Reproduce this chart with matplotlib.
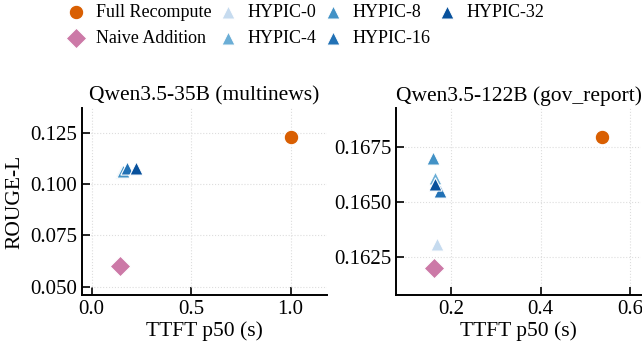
import matplotlib
matplotlib.use("Agg")
import matplotlib.pyplot as plt

plt.rcParams['font.family'] = ['Liberation Serif', 'DejaVu Serif']

methods = ["Full Recompute", "Naive Addition", "HYPIC-0", "HYPIC-4",
           "HYPIC-8", "HYPIC-16", "HYPIC-32"]
colors = ["#d95f02", "#cc79a7", "#c6dbef", "#6baed6", "#4292c6", "#2171b5", "#08519c"]
markers = ["o", "D", "^", "^", "^", "^", "^"]
sizes = [110, 110, 90, 90, 90, 90, 90]

# Qwen3.5-35B (multinews)
ttft_35b = [1.00, 0.143, 0.146, 0.152, 0.160, 0.180, 0.225]
rouge_35b = [0.123, 0.060, 0.1060, 0.1062, 0.1065, 0.1080, 0.1078]

# Qwen3.5-122B (gov_report)
ttft_122b = [0.537, 0.161, 0.169, 0.165, 0.160, 0.176, 0.164]
rouge_122b = [0.16800, 0.16200, 0.16306, 0.16612, 0.16702, 0.16550, 0.16584]

fig = plt.figure(figsize=(6.42, 3.47), dpi=100)
ax1 = fig.add_axes([0.128, 0.150, 0.381, 0.539])
ax2 = fig.add_axes([0.617, 0.150, 0.382, 0.539])

panels = [
    (ax1, ttft_35b, rouge_35b, "Qwen3.5-35B (multinews)"),
    (ax2, ttft_122b, rouge_122b, "Qwen3.5-122B (gov_report)"),
]

for ax, xs, ys, title in panels:
    for i in range(len(methods)):
        ax.scatter(xs[i], ys[i], s=sizes[i], marker=markers[i], color=colors[i],
                   edgecolor="white", linewidth=0.8, label=methods[i], zorder=3)
    ax.set_title(title, fontsize=15.5, pad=5)
    ax.set_xlabel("TTFT p50 (s)", fontsize=15.5, labelpad=2)
    ax.grid(True, linestyle=":", color="#dddddd", linewidth=0.8)
    ax.spines["top"].set_visible(False)
    ax.spines["right"].set_visible(False)
    ax.spines["left"].set_linewidth(1.4)
    ax.spines["bottom"].set_linewidth(1.4)
    ax.tick_params(direction="in", length=6, width=1.2, labelsize=15)

ax1.set_ylabel("ROUGE-L", fontsize=15.5)
ax1.set_xlim(-0.047, 1.182)
ax1.set_ylim(0.046, 0.137)
ax1.set_xticks([0.0, 0.5, 1.0])
ax1.set_yticks([0.050, 0.075, 0.100, 0.125])

ax2.set_xlim(0.077, 0.625)
ax2.set_ylim(0.16075, 0.16931)
ax2.set_xticks([0.2, 0.4, 0.6])
ax2.set_yticks([0.1625, 0.1650, 0.1675])
ax2.set_yticklabels(["0.1625", "0.1650", "0.1675"])

handles, labels = ax1.get_legend_handles_labels()
fig.legend(handles, labels, loc="upper left", bbox_to_anchor=(0.085, 1.02),
           ncol=4, frameon=False, fontsize=13, handlelength=1.2,
           handletextpad=0.5, columnspacing=0.3, labelspacing=0.5,
           borderaxespad=0.2)

fig.savefig("out.png", dpi=100)
